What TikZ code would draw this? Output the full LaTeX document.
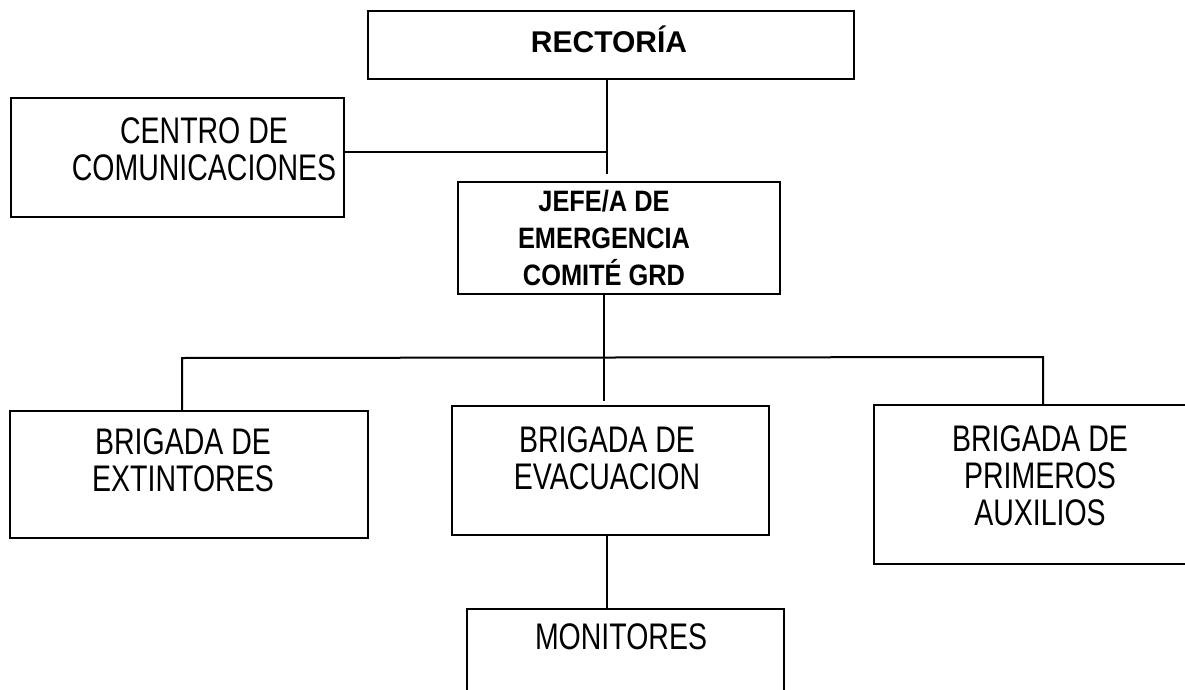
\documentclass[tikz,border=0pt]{standalone}
\usepackage{fontspec}
\setmainfont{Liberation Sans}
\newfontfamily\narrowsf{Liberation Sans}[FakeStretch=0.77]
\newfontfamily\narrowbf{Liberation Sans}[FakeStretch=0.86]
\usepackage{tikz}

\begin{document}
\begin{tikzpicture}[x=1pt,y=-1pt,
    box/.style={draw, line width=2.4pt, anchor=north west, inner sep=0pt},
    link/.style={line width=2pt},
    txt/.style={inner sep=0pt, anchor=north, align=center,
      font=\narrowsf\fontsize{37pt}{37pt}\selectfont},
    boldtxt/.style={inner sep=0pt, anchor=north, align=center,
      font=\narrowbf\bfseries\fontsize{29.5pt}{37pt}\selectfont}]

  % Page
  \useasboundingbox (0,0) rectangle (1185,690);
  \clip (0,0) rectangle (1185,690);

  % Boxes
  \node[box, minimum width=486pt, minimum height=68pt] (rect) at (367,10) {};
  \node[box, minimum width=333pt, minimum height=119pt] (centro) at (10,97) {};
  \node[box, minimum width=322pt, minimum height=112pt] (jefe) at (457,181) {};
  \node[box, minimum width=358pt, minimum height=127pt] (extint) at (9,410) {};
  \node[box, minimum width=317pt, minimum height=129pt] (evac) at (451,405) {};
  \node[box, minimum width=322pt, minimum height=159pt] (prim) at (873,404) {};
  \node[box, minimum width=317pt, minimum height=100pt] (monit) at (466,608) {};

  % Texts
  \node[inner sep=0pt, anchor=base, font=\bfseries\fontsize{30pt}{34pt}\selectfont]
    (rectT) at (609,53) {RECTORÍA};
  \node[txt] (centroT) at (204,117) {CENTRO DE\\COMUNICACIONES};
  \node[boldtxt] (jefeT) at (604,190) {JEFE/A DE\\EMERGENCIA\\COMITÉ GRD};
  \node[txt] (extintT) at (183,428) {BRIGADA DE\\EXTINTORES};
  \node[txt] (evacT) at (607,426) {BRIGADA DE\\EVACUACION};
  \node[txt] (primT) at (1040,425) {BRIGADA DE\\PRIMEROS\\AUXILIOS};
  \node[txt] (monitT) at (621,623) {MONITORES};

  % Connectors
  \coordinate (hub) at (607,152);
  \coordinate (hubLow) at (607,174);
  \draw[link] (rect.south -| hub) -- (hubLow);
  \draw[link] (centro.east |- hub) -- (hub);

  \coordinate (busL) at (182,358);
  \coordinate (busM) at (604,358);
  \coordinate (busR) at (1043,357);
  \coordinate (evacIn) at (604,401);
  \draw[link] (jefe.south -| busM) -- (evacIn);
  \draw[link] (extint.north -| busL) -- (busL) -- (busR) -- (prim.north -| busR);

  \coordinate (drop) at (607,570);
  \draw[link] (evac.south -| drop) -- (monit.north -| drop);

\end{tikzpicture}
\end{document}
